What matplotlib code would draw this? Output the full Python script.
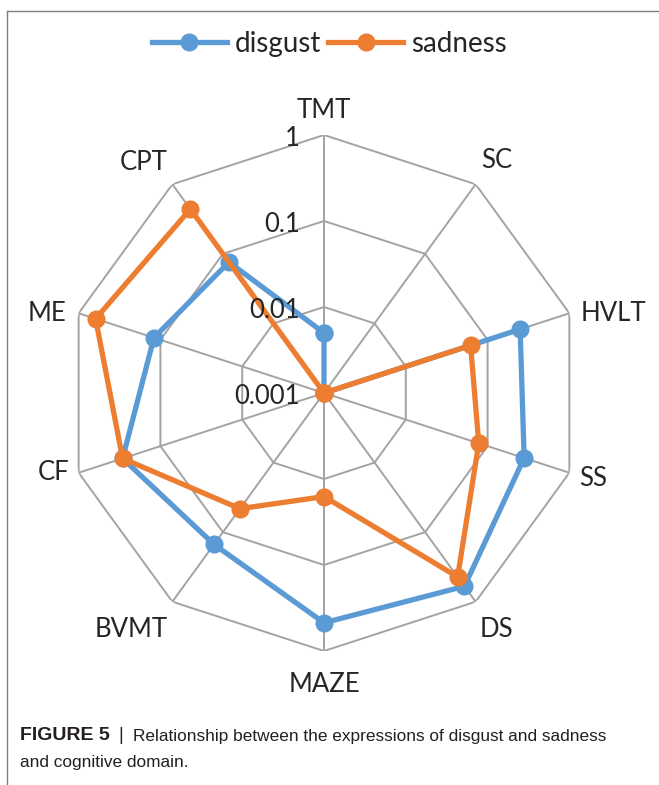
import numpy as np
import matplotlib
matplotlib.use("Agg")
import matplotlib.pyplot as plt
from matplotlib.lines import Line2D

# values (log scale, 0.001 at centre)
domains = ["TMT", "SC", "HVLT", "SS", "DS", "MAZE", "BVMT", "CF", "ME", "CPT"]
disgust = [0.005, 0.001, 0.25, 0.28, 0.60, 0.47, 0.15, 0.29, 0.12, 0.076]
sadness = [0.001, 0.001, 0.062, 0.078, 0.44, 0.016, 0.046, 0.29, 0.62, 0.44]
ring_values = [0.001, 0.01, 0.1, 1]
ring_labels = ["0.001", "0.01", "0.1", "1"]

BLUE = "#5B9BD5"
ORANGE = "#ED7D31"
GRID = "#A3A3A3"
TXT = "#262626"

plt.rcParams["font.family"] = ["Lato", "DejaVu Sans"]

W, H = 659, 785
fig = plt.figure(figsize=(W / 100, H / 100), dpi=100)

cx, cy, R = 324, 393, 258
ax = fig.add_axes([(cx - R) / W, (H - cy - R) / H, 2 * R / W, 2 * R / H],
                  projection="polar")
ax.set_theta_zero_location("N")
ax.set_theta_direction(-1)
ax.set_rscale("log")
ax.set_rlim(0.001, 1)
ax.grid(False)
ax.set_xticks([])
ax.set_yticks([])
ax.spines["polar"].set_visible(False)
ax.patch.set_visible(False)

n = len(domains)
theta = np.arange(n) * 2 * np.pi / n
theta_c = np.append(theta, theta[0])

# decagon grid
for rv in ring_values[1:]:
    ax.plot(theta_c, [rv] * (n + 1), color=GRID, lw=1.4, zorder=1)
for t in theta:
    ax.plot([t, t], [0.001, 1], color=GRID, lw=1.4, zorder=1)

# series
for vals, col, name in [(disgust, BLUE, "disgust"), (sadness, ORANGE, "sadness")]:
    ax.plot(theta_c, vals + vals[:1], color=col, lw=3.8, marker="o",
            markersize=12, label=name, zorder=3, solid_joinstyle="round")

# axis value labels along the TMT spoke
for rv, lab in zip(ring_values, ring_labels):
    ax.annotate(lab, xy=(0, rv), xytext=(-24, -3), textcoords="offset pixels",
                ha="right", va="center", fontsize=18.5, color=TXT)

# category labels
offsets = {
    "TMT": (0, 25, "center"), "SC": (21, 24, "center"),
    "HVLT": (11, 0, "left"), "SS": (10, -6, "left"),
    "DS": (21, -28, "center"), "MAZE": (0, -33, "center"),
    "BVMT": (-5, -28, "right"), "CF": (-9, 0, "right"),
    "ME": (-12, 0, "right"), "CPT": (-29, 22, "center"),
}
for t, name in zip(theta, domains):
    dx, dy, ha = offsets[name]
    ax.annotate(name, xy=(t, 1), xytext=(dx, dy), textcoords="offset pixels",
                ha=ha, va="center", fontsize=18.5, color=TXT)

handles, labels = ax.get_legend_handles_labels()
fig.legend(handles, labels, loc="center", bbox_to_anchor=(0.5, 1 - 44 / H),
           ncol=2, frameon=False, fontsize=20, handlelength=2.7,
           handletextpad=0.3, columnspacing=0.25, labelcolor=TXT)

# frame lines
fig.add_artist(Line2D([7 / W, 1], [1 - 11 / H, 1 - 11 / H], color="#7F7F7F", lw=1))
fig.add_artist(Line2D([7 / W, 7 / W], [0, 1 - 11 / H], color="#7F7F7F", lw=1))

# caption
cap_font = ["Liberation Sans Narrow", "Liberation Sans", "DejaVu Sans"]
fig.text(20 / W, 1 - 736 / H, "FIGURE 5", fontsize=14, fontweight="bold",
         family=cap_font, va="center", color="#231F20")
fig.text(118 / W, 1 - 735 / H, "|", fontsize=13, family=cap_font,
         va="center", color="#231F20")
fig.text(133 / W, 1 - 736 / H, "Relationship between the expressions of disgust and sadness",
         fontsize=12.4, family=cap_font, va="center", color="#231F20")
fig.text(20 / W, 1 - 763 / H, "and cognitive domain.", fontsize=12.4,
         family=cap_font, va="center", color="#231F20")

fig.savefig("out.png", dpi=100)
